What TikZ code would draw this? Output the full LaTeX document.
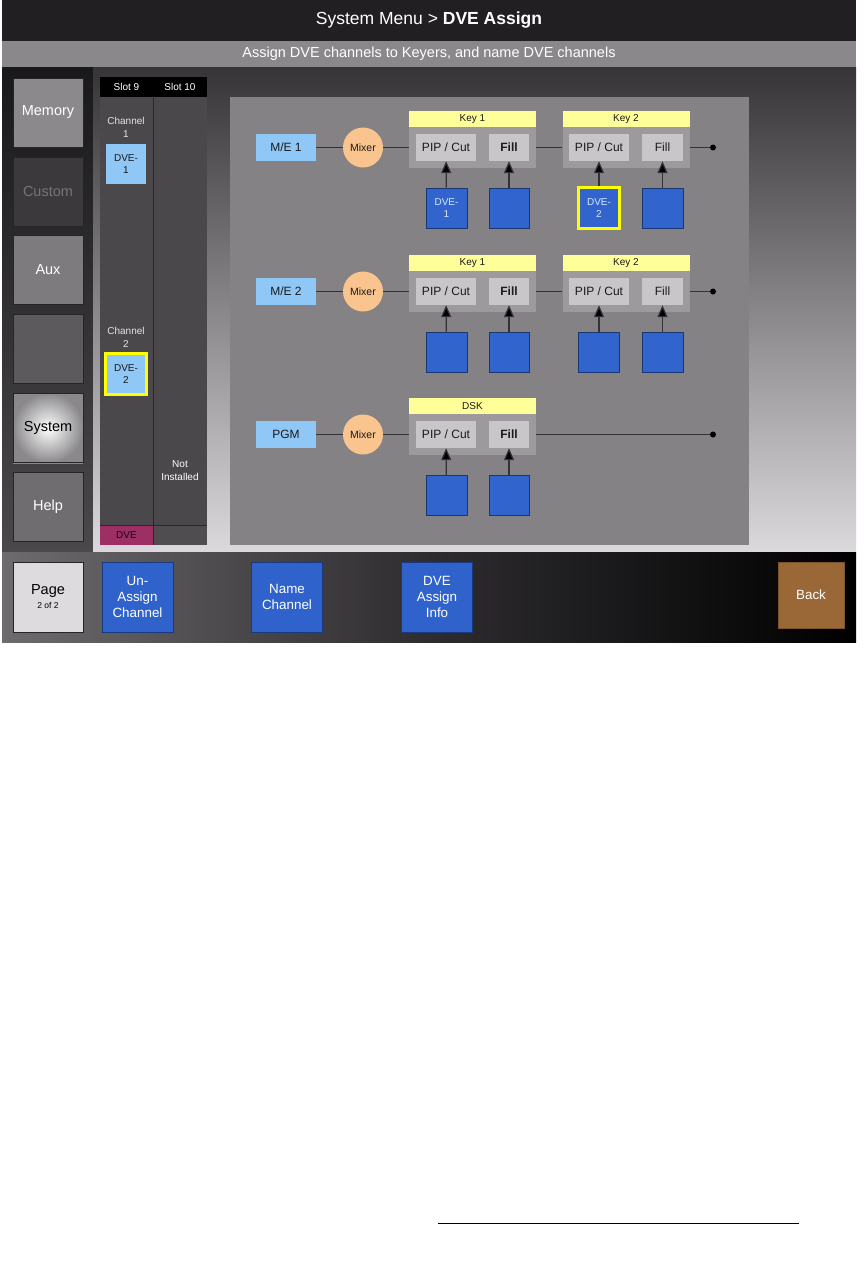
\documentclass[tikz,border=0pt]{standalone}
\usepackage{fontspec}
\setmainfont{Liberation Sans}
\usetikzlibrary{arrows.meta}
\definecolor{titlebg}{HTML}{221F22}
\definecolor{subbg}{HTML}{8B888C}
\definecolor{lcoltop}{HTML}{19181A}
\definecolor{lcolbot}{HTML}{4A484B}
\definecolor{maintop}{HTML}{363437}
\definecolor{mainbot}{HTML}{DCD9DC}
\definecolor{barleft}{HTML}{6D6B6E}
\definecolor{barmid}{HTML}{2E2C2F}
\definecolor{btnborder}{HTML}{262427}
\definecolor{memfill}{HTML}{8C898D}
\definecolor{custfill}{HTML}{3B393C}
\definecolor{custtext}{HTML}{77757A}
\definecolor{auxfill}{HTML}{7E7B7F}
\definecolor{blankfill}{HTML}{5C5A5D}
\definecolor{sysout}{HTML}{8A888B}
\definecolor{helpfill}{HTML}{6F6D70}
\definecolor{pagefill}{HTML}{DDDBDE}
\definecolor{slotfill}{HTML}{4A484B}
\definecolor{slotline}{HTML}{2A282B}
\definecolor{dvemag}{HTML}{9C2F63}
\definecolor{slotbot}{HTML}{4F4D50}
\definecolor{lblue}{HTML}{8FC7F7}
\definecolor{panelfill}{HTML}{858286}
\definecolor{peach}{HTML}{F9C48E}
\definecolor{yel}{HTML}{FFFF99}
\definecolor{grpgray}{HTML}{9D9A9E}
\definecolor{ingray}{HTML}{C8C6C9}
\definecolor{dblue}{HTML}{3165CD}
\definecolor{dborder}{HTML}{1B3570}
\definecolor{hiyel}{HTML}{FFFF00}
\definecolor{txt}{HTML}{1A1A1A}
\definecolor{wire}{HTML}{333333}
\definecolor{bblue}{HTML}{2F63CB}
\definecolor{bbord}{HTML}{1A3A80}
\definecolor{backfill}{HTML}{9A6837}
\definecolor{dvetxt}{HTML}{D8E6FF}
\tikzset{
  sidebtn/.style={draw=btnborder, line width=1pt, inner sep=0pt, minimum width=70pt, minimum height=69pt, text=white, font=\fontsize{14.5}{17}\selectfont},
  botbtn/.style={draw=bbord, line width=1pt, fill=bblue, inner sep=0pt, minimum width=71pt, minimum height=70pt, text=white, align=center, font=\fontsize{13.4}{16}\selectfont},
  slottxt/.style={text=white, align=center, inner sep=0pt, font=\fontsize{10}{13}\selectfont},
  srcbox/.style={fill=lblue, inner sep=0pt, minimum width=60pt, minimum height=27pt, text=txt, font=\fontsize{12}{14}\selectfont},
  mixer/.style={circle, fill=peach, inner sep=0pt, minimum size=40pt, text=txt, font=\fontsize{10.5}{12}\selectfont},
  hdr/.style={fill=yel, inner sep=0pt, minimum width=127pt, minimum height=16pt, text=txt, font=\fontsize{10}{12}\selectfont},
  grp/.style={fill=grpgray, inner sep=0pt, minimum width=127pt, minimum height=41pt},
  inbox/.style={fill=ingray, inner sep=0pt, minimum height=27pt, text=txt, font=\fontsize{12}{14}\selectfont},
  dvebox/.style={fill=dblue, draw=dborder, line width=1pt, inner sep=0pt, minimum width=40pt, minimum height=40pt, text=dvetxt, align=center, font=\fontsize{10}{12}\selectfont},
  hibox/.style={fill=dblue, draw=hiyel, line width=3pt, inner sep=0pt, minimum width=41pt, minimum height=41pt, text=dvetxt, align=center, font=\fontsize{10}{12}\selectfont},
  wireln/.style={draw=wire, line width=1pt},
  arr/.style={draw=wire, line width=1.2pt, -{Triangle[width=10pt,length=12pt,fill=black]}},
  enddot/.style={circle, fill=black, inner sep=0pt, minimum size=6pt}
}
\begin{document}
\begin{tikzpicture}[x=1pt,y=-1pt]
\useasboundingbox (0,0) rectangle (864,1269);
\fill[white] (0,0) rectangle (864,1269);
% --- screen frame ---
\fill[titlebg] (2,0) rectangle (856,41);
\node[text=white, font=\fontsize{17.5}{20}\selectfont] (title) at (429,20) {System Menu > \textbf{DVE Assign}};
\fill[subbg] (2,41) rectangle (856,67);
\node[text=white, font=\fontsize{14.5}{17}\selectfont] (subtitle) at (429,54) {Assign DVE channels to Keyers, and name DVE channels};
\shade[top color=lcoltop, bottom color=lcolbot] (2,67) rectangle (93,552);
\shade[top color=maintop, bottom color=mainbot] (93,67) rectangle (856,552);
\shade[left color=barleft, right color=black, middle color=barmid] (2,552) rectangle (856,642);
% --- side buttons ---
\node[sidebtn, fill=memfill] (memory) at (48,112.5) {Memory};
\node[sidebtn, fill=custfill, text=custtext] (custom) at (48,191.5) {Custom};
\node[sidebtn, fill=auxfill] (aux) at (48,270) {Aux};
\node[sidebtn, fill=blankfill] (blank) at (48,349) {};
\shade[inner color=white, outer color=sysout] (13,393) rectangle (83,463);
\node[sidebtn, text=black] (system) at (48,428) {System};
\node[sidebtn, fill=helpfill] (help) at (48,507) {Help};
\node[sidebtn, fill=pagefill, text=black, align=center, minimum height=70pt] (page) at (48,597) {Page\\[-3pt]{\fontsize{8.5}{10}\selectfont 2 of 2}};
% --- slot panel ---
\fill[black] (100,77) rectangle (207,97);
\node[slottxt] (slot9) at (126.5,87) {Slot 9};
\node[slottxt] (slot10) at (180,87) {Slot 10};
\fill[slotfill] (100,97) rectangle (207,525);
\fill[dvemag] (100,525) rectangle (153,545);
\fill[slotbot] (153,525) rectangle (207,545);
\draw[slotline, line width=1pt] (153,97) -- (153,545);
\draw[slotline, line width=1pt] (100,525) -- (207,525);
\node[slottxt, text=black!85!dvemag] (dvelbl) at (126.5,535.5) {DVE};
\node[slottxt, text=white!90!black] (ch1) at (126,127.5) {Channel\\1};
\node[fill=lblue, inner sep=0pt, minimum width=40pt, minimum height=40pt, text=txt, align=center, font=\fontsize{10}{12}\selectfont] (dve1s) at (126,164) {DVE-\\1};
\node[slottxt, text=white!90!black] (ch2) at (126,337.5) {Channel\\2};
\node[fill=lblue, draw=hiyel, line width=3pt, inner sep=0pt, minimum width=41pt, minimum height=41pt, text=txt, align=center, font=\fontsize{10}{12}\selectfont] (dve2s) at (126,374) {DVE-\\2};
\node[slottxt] (notinst) at (180,471) {Not\\Installed};
% --- diagram panel ---
\fill[panelfill] (230,97) rectangle (749,545);
% Row 1
\node[srcbox] (me1) at (286,147.5) {M/E 1};
\node[mixer] (mix1) at (363,147.5) {Mixer};
\node[grp] (g11) at (472.5,147.5) {};
\node[hdr] (h11) at (472.5,119) {Key 1};
\node[inbox, minimum width=60pt] (p11) at (446,147.5) {PIP / Cut};
\node[inbox, minimum width=40pt] (f11) at (509,147.5) {\bfseries Fill};
\node[grp] (g12) at (626,147.5) {};
\node[hdr] (h12) at (626,119) {Key 2};
\node[inbox, minimum width=60pt] (p12) at (599,147.5) {PIP / Cut};
\node[inbox, minimum width=41pt] (f12) at (662.5,147.5) {Fill};
\node[enddot] (d1) at (713,147.5) {};
\node[dvebox, minimum width=41pt] (s11) at (446.5,208) {DVE-\\1};
\node[dvebox] (s12) at (509,208) {};
\node[hibox] (s13) at (599,208) {DVE-\\2};
\node[dvebox, minimum width=41pt] (s14) at (662.5,208) {};
\draw[wireln] (me1) -- (mix1);
\draw[wireln] (mix1) -- (g11);
\draw[wireln] (g11) -- (g12);
\draw[wireln] (g12) -- (d1);
\draw[arr] (s11) -- (p11);
\draw[arr] (s12) -- (f11);
\draw[arr] (s13) -- (p12);
\draw[arr] (s14) -- (f12);
% Row 2
\node[srcbox] (me2) at (286,291.5) {M/E 2};
\node[mixer] (mix2) at (363,291.5) {Mixer};
\node[grp] (g21) at (472.5,291.5) {};
\node[hdr] (h21) at (472.5,263) {Key 1};
\node[inbox, minimum width=60pt] (p21) at (446,291.5) {PIP / Cut};
\node[inbox, minimum width=40pt] (f21) at (509,291.5) {\bfseries Fill};
\node[grp] (g22) at (626,291.5) {};
\node[hdr] (h22) at (626,263) {Key 2};
\node[inbox, minimum width=60pt] (p22) at (599,291.5) {PIP / Cut};
\node[inbox, minimum width=41pt] (f22) at (662.5,291.5) {Fill};
\node[enddot] (d2) at (713,291.5) {};
\node[dvebox, minimum width=41pt] (s21) at (446.5,352) {};
\node[dvebox] (s22) at (509,352) {};
\node[dvebox, minimum width=41pt] (s23) at (599,352) {};
\node[dvebox, minimum width=41pt] (s24) at (662.5,352) {};
\draw[wireln] (me2) -- (mix2);
\draw[wireln] (mix2) -- (g21);
\draw[wireln] (g21) -- (g22);
\draw[wireln] (g22) -- (d2);
\draw[arr] (s21) -- (p21);
\draw[arr] (s22) -- (f21);
\draw[arr] (s23) -- (p22);
\draw[arr] (s24) -- (f22);
% Row 3
\node[srcbox] (pgm) at (286,434.5) {PGM};
\node[mixer] (mix3) at (363,434.5) {Mixer};
\node[grp] (g31) at (472.5,434.5) {};
\node[hdr] (h31) at (472.5,406) {DSK};
\node[inbox, minimum width=60pt] (p31) at (446,434.5) {PIP / Cut};
\node[inbox, minimum width=40pt] (f31) at (509,434.5) {\bfseries Fill};
\node[enddot] (d3) at (713,434.5) {};
\node[dvebox, minimum width=41pt] (s31) at (446.5,495.5) {};
\node[dvebox] (s32) at (509,495.5) {};
\draw[wireln] (pgm) -- (mix3);
\draw[wireln] (mix3) -- (g31);
\draw[wireln, line width=1.6pt] (g31) -- (d3);
\draw[arr] (s31) -- (p31);
\draw[arr] (s32) -- (f31);
% --- bottom buttons ---
\node[botbtn] (unassign) at (137.5,597) {Un-\\Assign\\Channel};
\node[botbtn] (namech) at (287,597) {Name\\Channel};
\node[botbtn] (dveinfo) at (437,597) {DVE\\Assign\\Info};
\node[botbtn, fill=backfill, draw=backfill!80!black, minimum width=66pt, minimum height=66pt] (back) at (811,595) {Back};
% --- footer rule ---
\coordinate (ruleL) at (438,1223);
\coordinate (ruleR) at (799,1223);
\draw[black, line width=1pt] (ruleL) -- (ruleR);
\end{tikzpicture}
\end{document}
